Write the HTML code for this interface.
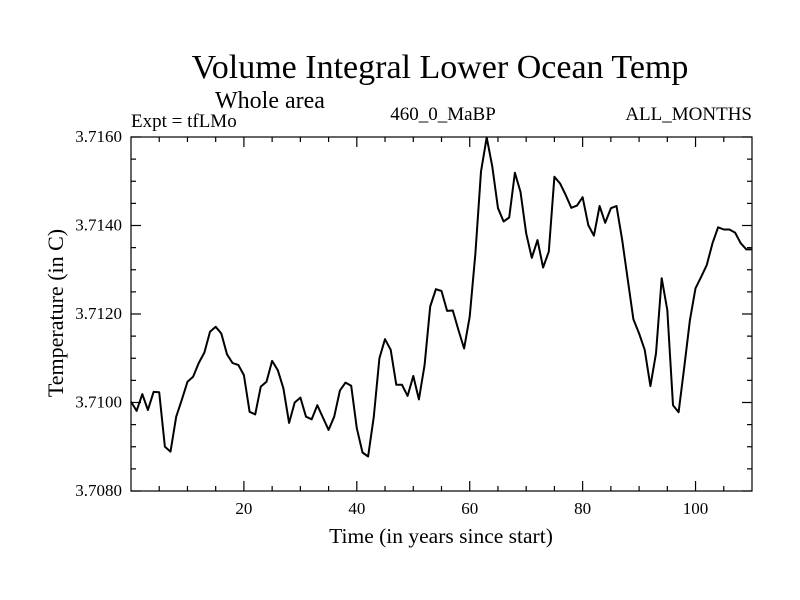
<!DOCTYPE html>
<html><head><meta charset="utf-8"><style>
body{margin:0;background:#fff}
svg{display:block;font-family:"Liberation Serif",serif}
</style></head><body>
<svg id="c" width="800" height="600">
<text x="440" y="78" font-size="34" text-anchor="middle">Volume Integral Lower Ocean Temp</text>
<text x="270" y="108" font-size="24" text-anchor="middle">Whole area</text>
<text x="131" y="127" font-size="19">Expt = tfLMo</text>
<text x="443" y="120" font-size="19" text-anchor="middle">460_0_MaBP</text>
<text x="752" y="120" font-size="19" text-anchor="end">ALL_MONTHS</text>
<text x="441" y="543" font-size="21.5" text-anchor="middle">Time (in years since start)</text>
<text transform="translate(63,313) rotate(-90)" font-size="22" text-anchor="middle">Temperature (in C)</text>
<g id="axes"></g>
<path id="line" fill="none" stroke="#000" stroke-width="2" stroke-linejoin="round"></path>
<rect x="131" y="137" width="621" height="354" fill="none" stroke="#000" stroke-width="1.2"/>
</svg>
<script>
const years=[];for(let i=0;i<=110;i++)years.push(i);
const temps=[3.71002,3.70981,3.71019,3.70983,3.71024,3.71023,3.70900,3.70889,3.70968,3.71006,
3.71047,3.71058,3.71089,3.71113,3.71160,3.71171,3.71156,3.71109,3.71089,3.71085,
3.71062,3.70979,3.70973,3.71036,3.71047,3.71094,3.71073,3.71032,3.70954,3.71000,
3.71011,3.70968,3.70962,3.70994,3.70966,3.70938,3.70968,3.71027,3.71045,3.71038,
3.70942,3.70887,3.70878,3.70968,3.71100,3.71143,3.71119,3.71040,3.71040,3.71015,
3.71060,3.71007,3.71085,3.71217,3.71256,3.71252,3.71207,3.71208,3.71164,3.71122,
3.71194,3.71337,3.71522,3.71599,3.71533,3.71439,3.71409,3.71418,3.71519,3.71476,
3.71382,3.71327,3.71367,3.71305,3.71341,3.71510,3.71495,3.71469,3.71440,3.71445,
3.71464,3.71401,3.71377,3.71444,3.71406,3.71439,3.71444,3.71367,3.71277,3.71188,
3.71156,3.71119,3.71037,3.71111,3.71281,3.71209,3.70994,3.70978,3.71081,3.71186,
3.71258,3.71284,3.71311,3.71360,3.71396,3.71391,3.71391,3.71384,3.71360,3.71346,3.71346];
const xTicks=[20,40,60,80,100];
const yTicks=[3.708,3.710,3.712,3.714,3.716];
const yTickLabels=["3.7080","3.7100","3.7120","3.7140","3.7160"];
const L=131,R=752,T=137,B=491,X0=0,X1=110,Y0=3.708,Y1=3.716;
const sx=v=>L+(v-X0)/(X1-X0)*(R-L);
const sy=v=>B-(v-Y0)/(Y1-Y0)*(B-T);
const ns="http://www.w3.org/2000/svg";
const g=document.getElementById('axes');
function ln(x1,y1,x2,y2,name){const e=document.createElementNS(ns,'line');
e.setAttribute('x1',x1);e.setAttribute('y1',y1);e.setAttribute('x2',x2);e.setAttribute('y2',y2);
e.setAttribute('stroke','#000');e.setAttribute('stroke-width','1.2');


g.appendChild(e);}
function tx(x,y,s,anchor,name){const e=document.createElementNS(ns,'text');
e.setAttribute('x',x);e.setAttribute('y',y);e.setAttribute('font-size','17');e.setAttribute('text-anchor',anchor);e.textContent=s;


g.appendChild(e);}
for(let v=5;v<X1;v+=5){const x=sx(v);const major=v%20===0;const len=major?10:5;
ln(x,B,x,B-len,'x-tick');ln(x,T,x,T+len,'x-tick-top');}
xTicks.forEach(v=>tx(sx(v),514,String(v),'middle','x-tick-label'));
for(let k=0;k<=16;k++){const v=Y0+k*0.0005;const y=sy(v);const major=k%4===0;const len=major?10:5;
ln(L,y,L+len,y,'y-tick');ln(R,y,R-len,y,'y-tick-right');}
yTicks.forEach((v,i)=>tx(122,sy(v)+5,yTickLabels[i],'end','y-tick-label'));
document.getElementById('line').setAttribute('d',years.map((yr,i)=>(i?'L':'M')+sx(yr).toFixed(1)+','+sy(temps[i]).toFixed(1)).join(''));
</script>
</body></html>
